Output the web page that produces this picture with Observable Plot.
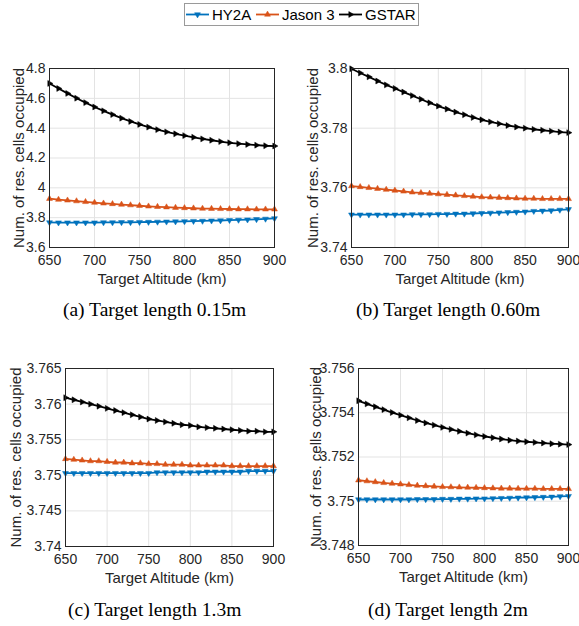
<!DOCTYPE html>
<html>
<head>
<meta charset="utf-8">
<script src="https://cdn.jsdelivr.net/npm/d3@7"></script>
<script src="https://cdn.jsdelivr.net/npm/@observablehq/plot@0.6"></script>
<style>
  body { margin: 0; background: #fff; }
  #fig { position: relative; width: 579px; height: 626px; overflow: hidden; background: #fff; }
  .panel { position: absolute; }
  .panel svg { overflow: visible; }
  .cap {
    position: absolute; transform: translate(-50%, -50%); white-space: nowrap;
    font-family: "Liberation Serif", "Times New Roman", serif; font-size: 19.5px; color: #000;
  }
  #legend { position: absolute; left: 0; top: 0; }
</style>
</head>
<body>
<div id="fig"></div>
<script>
// Target altitude (km) sampled every 10 km
const altitudeKm = [650,660,670,680,690,700,710,720,730,740,750,760,770,780,790,800,810,820,830,840,850,860,870,880,890,900];

const seriesNames = ["HY2A", "Jason 3", "GSTAR"];
const seriesColors = ["#0072BD", "#D95319", "#000000"];
const seriesMarkerRotation = [180, 0, 90]; // down, up, right triangles

const xTicks = [650, 700, 750, 800, 850, 900];
const xLabel = "Target Altitude (km)";
const yLabel = "Num. of res. cells occupied";

// (a) target length 0.15 m
const hy2a015 = [3.768,3.767,3.767,3.767,3.767,3.767,3.768,3.768,3.769,3.769,3.770,3.771,3.772,3.773,3.774,3.775,3.777,3.778,3.780,3.781,3.783,3.785,3.787,3.789,3.792,3.795];
const jason015 = [3.927,3.921,3.916,3.911,3.906,3.901,3.896,3.892,3.888,3.884,3.880,3.876,3.873,3.870,3.867,3.865,3.863,3.861,3.860,3.859,3.858,3.857,3.857,3.856,3.856,3.856];
const gstar015 = [4.700,4.666,4.633,4.601,4.571,4.542,4.516,4.491,4.467,4.445,4.425,4.407,4.390,4.375,4.362,4.350,4.339,4.328,4.319,4.310,4.302,4.296,4.291,4.286,4.282,4.280];
const yTicks015 = [3.6, 3.8, 4, 4.2, 4.4, 4.6, 4.8];

// (b) target length 0.60 m
const hy2a060 = [3.7510,3.7510,3.7510,3.7510,3.7510,3.7510,3.7510,3.7511,3.7511,3.7511,3.7512,3.7512,3.7513,3.7513,3.7514,3.7515,3.7516,3.7517,3.7518,3.7519,3.7520,3.7522,3.7523,3.7524,3.7526,3.7528];
const jason060 = [3.7606,3.7603,3.7600,3.7597,3.7594,3.7591,3.7588,3.7585,3.7583,3.7581,3.7579,3.7577,3.7575,3.7573,3.7571,3.7569,3.7568,3.7567,3.7566,3.7565,3.7564,3.7564,3.7563,3.7563,3.7563,3.7563];
const gstar060 = [3.7999,3.7985,3.7972,3.7958,3.7945,3.7933,3.7921,3.7909,3.7897,3.7885,3.7874,3.7864,3.7854,3.7845,3.7836,3.7828,3.7821,3.7815,3.7809,3.7804,3.7800,3.7796,3.7793,3.7790,3.7787,3.7785];
const yTicks060 = [3.74, 3.76, 3.78, 3.8];

// (c) target length 1.3 m
const hy2a13 = [3.7503,3.7503,3.7503,3.7503,3.7503,3.7503,3.7503,3.7503,3.7503,3.7503,3.7503,3.7504,3.7504,3.7504,3.7504,3.7504,3.7504,3.7505,3.7505,3.7505,3.7505,3.7505,3.7506,3.7506,3.7506,3.7506];
const jason13 = [3.7523,3.7522,3.7521,3.7520,3.7520,3.7519,3.7518,3.7518,3.7517,3.7517,3.7516,3.7516,3.7515,3.7515,3.7515,3.7514,3.7514,3.7514,3.7514,3.7514,3.7513,3.7513,3.7513,3.7513,3.7513,3.7513];
const gstar13 = [3.7609,3.7606,3.7603,3.7600,3.7597,3.7594,3.7591,3.7588,3.7585,3.7582,3.7579,3.7577,3.7575,3.7573,3.7571,3.7570,3.7568,3.7567,3.7566,3.7565,3.7564,3.7563,3.7562,3.7562,3.7561,3.7561];
const yTicks13 = [3.74, 3.745, 3.75, 3.755, 3.76, 3.765];

// (d) target length 2 m
const hy2a2 = [3.75008,3.75008,3.75008,3.75008,3.75008,3.75008,3.75008,3.75009,3.75009,3.75009,3.75010,3.75010,3.75011,3.75011,3.75012,3.75012,3.75013,3.75014,3.75015,3.75016,3.75017,3.75018,3.75019,3.75020,3.75022,3.75023];
const jason2 = [3.75095,3.75091,3.75087,3.75083,3.75080,3.75077,3.75074,3.75071,3.75069,3.75067,3.75065,3.75064,3.75063,3.75062,3.75061,3.75060,3.75059,3.75058,3.75058,3.75057,3.75057,3.75057,3.75056,3.75056,3.75056,3.75056];
const gstar2 = [3.75454,3.75440,3.75427,3.75414,3.75401,3.75389,3.75377,3.75365,3.75354,3.75344,3.75334,3.75325,3.75316,3.75308,3.75300,3.75293,3.75287,3.75281,3.75276,3.75272,3.75269,3.75266,3.75263,3.75260,3.75258,3.75256];
const yTicks2 = [3.748, 3.75, 3.752, 3.754, 3.756];

const captions = ["(a) Target length 0.15m", "(b) Target length 0.60m", "(c) Target length 1.3m", "(d) Target length 2m"];

function rowsFor(seriesValues) {
  const rows = [];
  seriesValues.forEach((vals, s) => {
    vals.forEach((v, i) => rows.push({ series: seriesNames[s], alt: altitudeKm[i], value: v, rot: seriesMarkerRotation[s] }));
  });
  return rows;
}

const panels = [
  { values: [hy2a015, jason015, gstar015], yTicks: yTicks015, left: 0,   top: 60,  width: 290, height: 230, mL: 49, mR: 16, mT: 8,  mB: 43, ylDx: -30, cap: [154.5, 310] },
  { values: [hy2a060, jason060, gstar060], yTicks: yTicks060, left: 290, top: 60,  width: 289, height: 230, mL: 61, mR: 11, mT: 8,  mB: 43, ylDx: -38, cap: [448, 310] },
  { values: [hy2a13, jason13, gstar13],    yTicks: yTicks13,  left: 0,   top: 350, width: 290, height: 240, mL: 65, mR: 17, mT: 18, mB: 44, ylDx: -49.5, cap: [154.7, 610] },
  { values: [hy2a2, jason2, gstar2],       yTicks: yTicks2,   left: 290, top: 350, width: 289, height: 240, mL: 68, mR: 11, mT: 18, mB: 45, ylDx: -42, cap: [448, 610] }
];

const fig = document.getElementById("fig");
const tickFmt = d3.format("~g");
const axisInk = "#262626";
const gridInk = "#e3e3e3";

panels.forEach((p, k) => {
  const rows = rowsFor(p.values);
  const yDomain = [p.yTicks[0], p.yTicks[p.yTicks.length - 1]];
  const chart = Plot.plot({
    width: p.width,
    height: p.height,
    marginLeft: p.mL,
    marginRight: p.mR,
    marginTop: p.mT,
    marginBottom: p.mB,
    style: { fontFamily: "'Liberation Sans', Arial, sans-serif", fontSize: "14px", color: axisInk, background: "transparent", overflow: "visible" },
    x: { domain: [650, 900] },
    y: { domain: yDomain },
    color: { domain: seriesNames, range: seriesColors },
    marks: [
      Plot.gridX(xTicks, { stroke: gridInk, strokeOpacity: 1 }),
      Plot.gridY(p.yTicks, { stroke: gridInk, strokeOpacity: 1 }),
      Plot.axisX(xTicks, { tickSize: 0, tickPadding: 8, label: null, fontSize: 14 }),
      Plot.axisY(p.yTicks, { tickSize: 0, tickPadding: 4, tickFormat: tickFmt, label: null, fontSize: 14 }),
      Plot.text([xLabel], { frameAnchor: "bottom", lineAnchor: "middle", textAnchor: "middle", dy: 32, fontSize: 15, fill: axisInk }),
      Plot.text([yLabel], { frameAnchor: "left", lineAnchor: "middle", textAnchor: "middle", rotate: -90, dx: p.ylDx, fontSize: 15, fill: axisInk }),
      Plot.line(rows, { x: "alt", y: "value", z: "series", stroke: "series", strokeWidth: 1.8 }),
      Plot.dot(rows, { x: "alt", y: "value", fill: "series", stroke: "series", strokeWidth: 0.5, symbol: "triangle", rotate: "rot", r: 2.2 }),
      Plot.frame({ stroke: axisInk, strokeWidth: 1 })
    ]
  });
  const holder = document.createElement("div");
  holder.className = "panel";
  holder.style.left = p.left + "px";
  holder.style.top = p.top + "px";
  holder.appendChild(chart);
  fig.appendChild(holder);

  const cap = document.createElement("div");
  cap.className = "cap";
  cap.style.left = p.cap[0] + "px";
  cap.style.top = p.cap[1] + "px";
  cap.textContent = captions[k];
  fig.appendChild(cap);
});

// Legend across the top
const legendX = [186, 256, 339];
const legendSvg = d3.create("svg").attr("id", "legend").attr("width", 579).attr("height", 30);
legendSvg.append("rect").attr("x", 184.5).attr("y", 3.5).attr("width", 234).attr("height", 22)
  .attr("fill", "#fff").attr("stroke", "#9a9a9a").attr("stroke-width", 1);
const tri = d3.symbol(d3.symbolTriangle, 2.2 * 2.2 * Math.PI)();
seriesNames.forEach((name, s) => {
  const g = legendSvg.append("g");
  const x0 = legendX[s];
  g.append("line").attr("x1", x0).attr("x2", x0 + 23).attr("y1", 14.5).attr("y2", 14.5)
    .attr("stroke", seriesColors[s]).attr("stroke-width", 1.8);
  g.append("path").attr("d", tri)
    .attr("transform", `translate(${x0 + 11.5},14.5) rotate(${seriesMarkerRotation[s]})`)
    .attr("fill", seriesColors[s]).attr("stroke", seriesColors[s]).attr("stroke-width", 0.5);
  g.append("text").attr("x", x0 + 26).attr("y", 14.5).attr("dy", "0.35em")
    .attr("font-family", "'Liberation Sans', Arial, sans-serif").attr("font-size", 15)
    .attr("fill", "#000").text(name);
});
fig.appendChild(legendSvg.node());
</script>
</body>
</html>
